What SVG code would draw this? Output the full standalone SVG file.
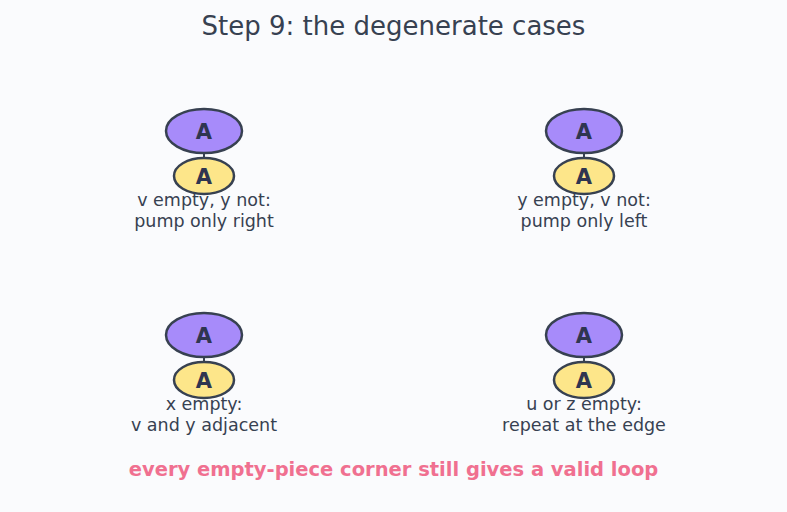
<svg xmlns="http://www.w3.org/2000/svg" width="787" height="512" viewBox="0 0 787 512">
<style>
text{font-family:"DejaVu Sans","Noto Sans",sans-serif;text-anchor:middle;fill:#374151}
.title{font-size:26px}
.big{stroke:#374151;stroke-width:2.5;fill:#a78bfa}
.small{stroke:#374151;stroke-width:2.5;fill:#fde68a}
.nl{font-size:21px;font-weight:bold;fill:#2f3550}
.lab{font-size:17.5px}
.foot{font-size:19.5px;font-weight:bold;fill:#f07090}
.edge{stroke:#374151;stroke-width:2}
</style>
<rect width="787" height="512" fill="#fafbfd"/>
<text class="title" x="393.5" y="35">Step 9: the degenerate cases</text>
<g id="connectors">
<line class="edge" x1="204" y1="153" x2="204" y2="158"/>
<line class="edge" x1="584" y1="153" x2="584" y2="158"/>
<line class="edge" x1="204" y1="357" x2="204" y2="362"/>
<line class="edge" x1="584" y1="357" x2="584" y2="362"/>
</g>
<g id="n1"><ellipse class="big" cx="204" cy="131" rx="38" ry="22"/><text class="nl" x="204" y="138.5">A</text></g>
<g id="n2"><ellipse class="small" cx="204" cy="176" rx="30" ry="18"/><text class="nl" x="204" y="183.5">A</text></g>
<g id="n3"><ellipse class="big" cx="584" cy="131" rx="38" ry="22"/><text class="nl" x="584" y="138.5">A</text></g>
<g id="n4"><ellipse class="small" cx="584" cy="176" rx="30" ry="18"/><text class="nl" x="584" y="183.5">A</text></g>
<g id="n5"><ellipse class="big" cx="204" cy="335" rx="38" ry="22"/><text class="nl" x="204" y="342.5">A</text></g>
<g id="n6"><ellipse class="small" cx="204" cy="380" rx="30" ry="18"/><text class="nl" x="204" y="387.5">A</text></g>
<g id="n7"><ellipse class="big" cx="584" cy="335" rx="38" ry="22"/><text class="nl" x="584" y="342.5">A</text></g>
<g id="n8"><ellipse class="small" cx="584" cy="380" rx="30" ry="18"/><text class="nl" x="584" y="387.5">A</text></g>
<g id="labels">
<text class="lab" x="204" y="206">v empty, y not:</text>
<text class="lab" x="204" y="227">pump only right</text>
<text class="lab" x="584" y="206">y empty, v not:</text>
<text class="lab" x="584" y="227">pump only left</text>
<text class="lab" x="204" y="410">x empty:</text>
<text class="lab" x="204" y="431">v and y adjacent</text>
<text class="lab" x="584" y="410">u or z empty:</text>
<text class="lab" x="584" y="431">repeat at the edge</text>
</g>
<text class="foot" x="393.5" y="476">every empty-piece corner still gives a valid loop</text>
</svg>
